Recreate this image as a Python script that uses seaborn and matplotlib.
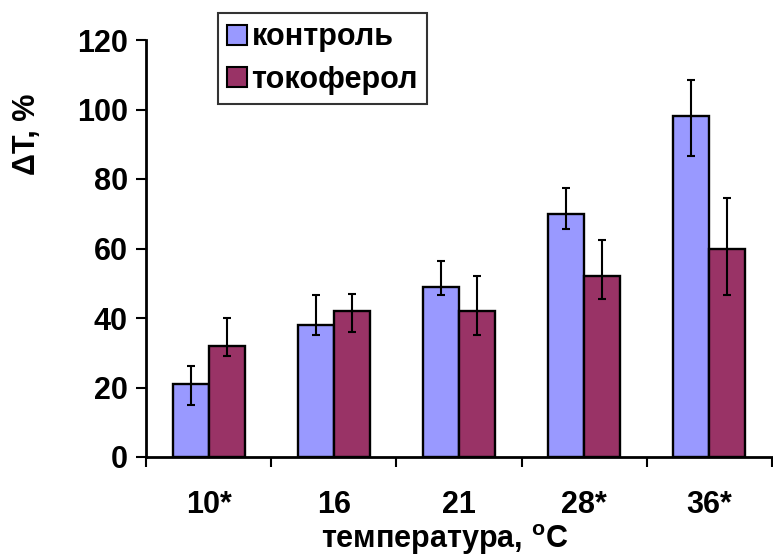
import matplotlib
matplotlib.use("Agg")
import matplotlib.pyplot as plt
import seaborn as sns
import pandas as pd
import numpy as np

# ---- data ----
categories = ["10*", "16", "21", "28*", "36*"]
groups = ["контроль", "токоферол"]
control = [21, 38, 49, 70, 98]
control_low = [15, 35, 46.5, 65.5, 86.5]
control_high = [26.3, 46.5, 56.4, 77.5, 108.5]
tocopherol = [32, 42, 42, 52, 60]
tocopherol_low = [29, 36, 35, 45.5, 46.5]
tocopherol_high = [40, 47, 52, 62.5, 74.5]
yticks = [0, 20, 40, 60, 80, 100, 120]

df = pd.DataFrame({
    "temp": categories * 2,
    "group": [groups[0]] * len(categories) + [groups[1]] * len(categories),
    "value": control + tocopherol,
})

sns.set_theme(style="white")
plt.rcParams["font.family"] = ["Liberation Sans", "DejaVu Sans"]
plt.rcParams["font.weight"] = "bold"
plt.rcParams["mathtext.fontset"] = "custom"
plt.rcParams["mathtext.rm"] = "Liberation Sans:bold"
plt.rcParams["mathtext.bf"] = "Liberation Sans:bold"
for k in ["text.color", "axes.labelcolor", "xtick.color", "ytick.color"]:
    plt.rcParams[k] = "black"

FS = 22

fig = plt.figure(figsize=(7.73, 5.56), dpi=100)
ax = fig.add_axes([146 / 773, 1 - 457 / 556, (772 - 146) / 773, (457 - 40) / 556])

palette = {groups[0]: "#9999FF", groups[1]: "#993366"}
sns.barplot(data=df, x="temp", y="value", hue="group", order=categories,
            hue_order=groups, palette=palette, width=0.574, gap=0,
            errorbar=None, edgecolor="black", linewidth=1.7, saturation=1,
            ax=ax)

# asymmetric error bars placed at bar centres
lows = [control_low, tocopherol_low]
highs = [control_high, tocopherol_high]
vals = [control, tocopherol]
for cont, v, lo, hi in zip(ax.containers, vals, lows, highs):
    xs = [b.get_x() + b.get_width() / 2 for b in cont]
    v = np.array(v)
    yerr = np.vstack([v - np.array(lo), np.array(hi) - v])
    ax.errorbar(xs, v, yerr=yerr, fmt="none", ecolor="black",
                elinewidth=1.5, capsize=3.2, capthick=1.5, zorder=5)

ax.set_xlim(-0.5, len(categories) - 0.5)
ax.set_ylim(0, 120)
ax.set_yticks(yticks)
ax.set_yticklabels([str(t) for t in yticks], fontsize=FS, fontweight="bold",
                   color="black")
ax.set_xticks(range(len(categories)))
ax.set_xticklabels(categories, fontsize=FS, fontweight="bold", color="black")
ax.set_xticks(np.arange(-0.5, len(categories)), minor=True)
ax.tick_params(axis="x", which="major", length=0, pad=24)
ax.tick_params(axis="x", which="minor", length=7, width=1.5, color="black",
               direction="out", bottom=True)
ax.tick_params(axis="y", which="major", length=7, width=1.5, color="black",
               direction="out", pad=6, left=True)

for s in ["top", "right"]:
    ax.spines[s].set_visible(False)
for s in ["left", "bottom"]:
    ax.spines[s].set_color("black")
    ax.spines[s].set_linewidth(2)

ax.set_xlabel(r"температура, $^{\mathrm{o}}$C", fontsize=FS, fontweight="bold",
              color="black")
ax.xaxis.set_label_coords(0.477, -0.157)
ax.set_ylabel("ΔT, %", fontsize=FS, fontweight="bold", color="black")
ax.yaxis.set_label_coords(-0.166, 0.775)

leg = ax.legend(loc="upper left", bbox_to_anchor=(0.115, 1.064),
                fontsize=FS, frameon=True, fancybox=False, shadow=False,
                handlelength=0.65, handleheight=0.65, handletextpad=0.15,
                labelspacing=0.4, borderpad=0.3, borderaxespad=0)
leg.get_frame().set_edgecolor("black")
leg.get_frame().set_linewidth(1.5)
for t in leg.get_texts():
    t.set_fontweight("bold")
    t.set_color("black")
for h in leg.legend_handles:
    h.set_edgecolor("black")
    h.set_linewidth(1.5)

fig.savefig("out.png", dpi=100)
